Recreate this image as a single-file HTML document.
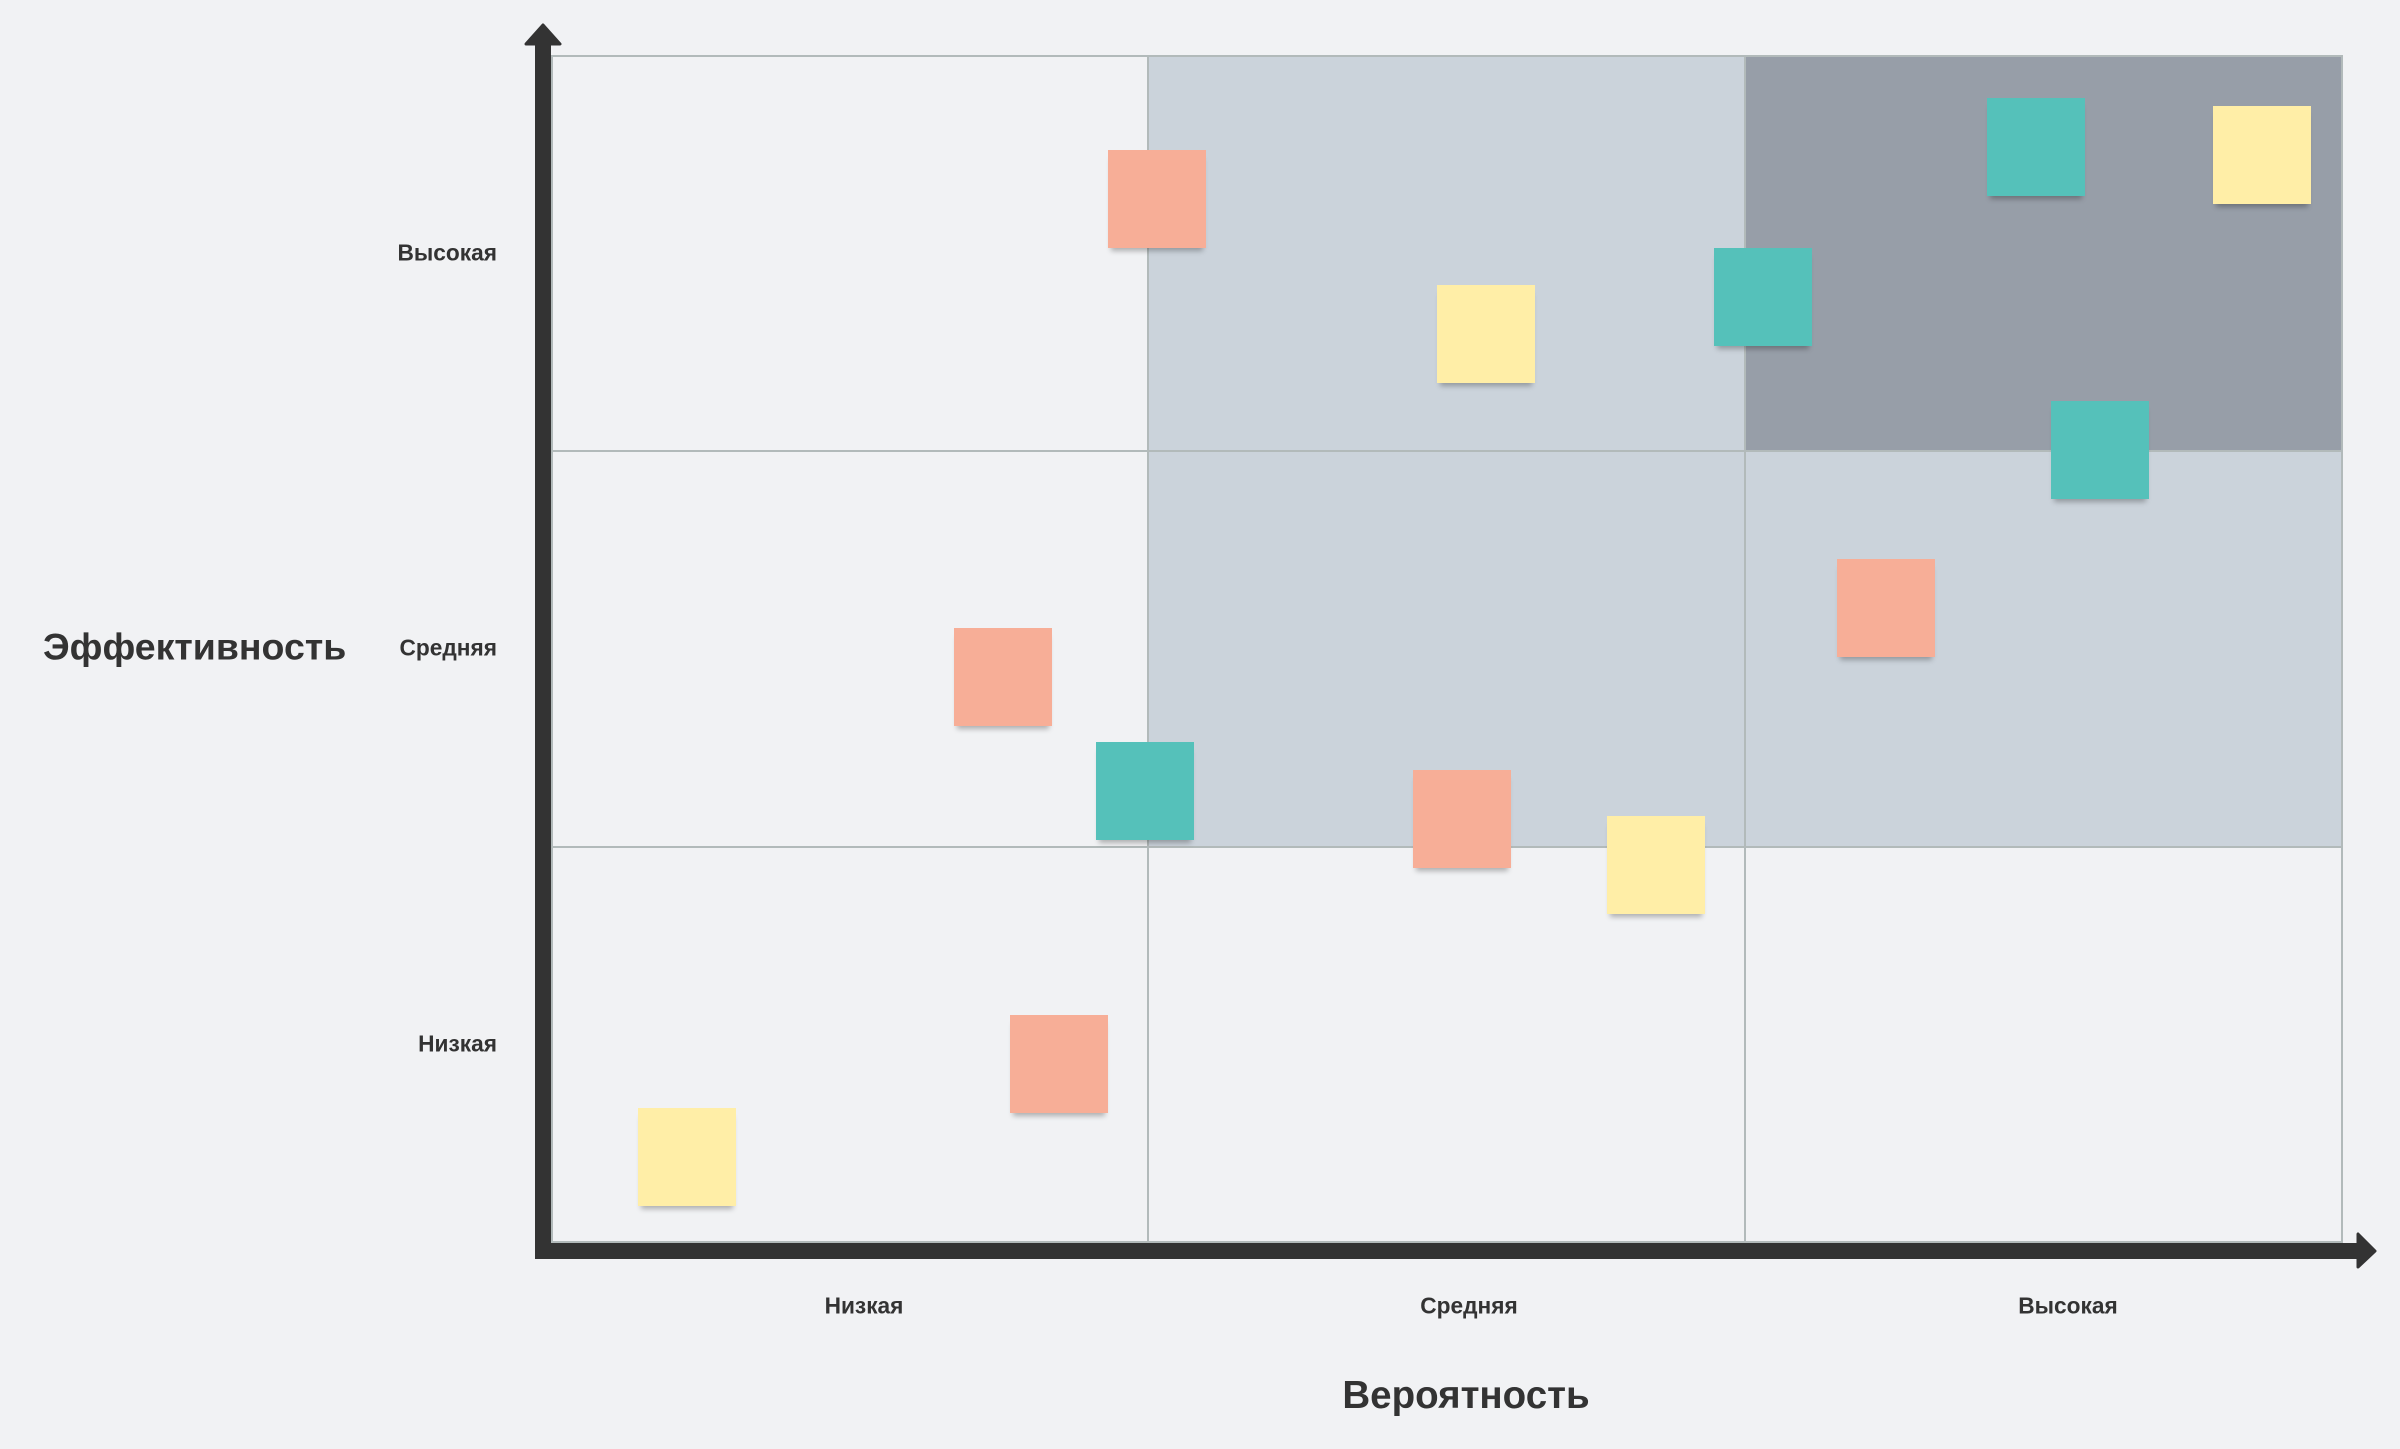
<!DOCTYPE html>
<html><head><meta charset="utf-8"><style>
html,body{margin:0;padding:0}
body{width:2400px;height:1449px;background:#f1f2f4;position:relative;overflow:hidden;font-family:"Liberation Sans",sans-serif;color:#333}
.a{position:absolute}
.s{position:absolute;width:98px;height:98px;box-shadow:0 6px 5px -3px rgba(0,0,0,0.28)}
.r{background:#f7ae97}.y{background:#ffeea7}.t{background:#55c1ba}
.lb{position:absolute;font-weight:bold;font-size:22.7px;transform:translate(-50%,-50%);white-space:nowrap}
.yl{position:absolute;font-weight:bold;font-size:22.7px;right:1903px;transform:translateY(-50%);white-space:nowrap}
</style></head><body>
<div class="a" style="left:1148px;top:55px;width:597px;height:792px;background:#cbd3db"></div>
<div class="a" style="left:1745px;top:451px;width:598px;height:396px;background:#cbd3db"></div>
<div class="a" style="left:1745px;top:55px;width:598px;height:396px;background:#979ea8"></div>
<div class="a" style="left:551px;top:55px;width:1792px;height:1188px;border:2px solid #b2baba;box-sizing:border-box"></div>
<div class="a" style="left:551px;top:450px;width:1792px;height:2px;background:#b2baba"></div>
<div class="a" style="left:551px;top:846px;width:1792px;height:2px;background:#b2baba"></div>
<div class="a" style="left:1147px;top:55px;width:2px;height:1188px;background:#b2baba"></div>
<div class="a" style="left:1744px;top:55px;width:2px;height:1188px;background:#b2baba"></div>
<svg class="a" style="left:0;top:0" width="2400" height="1449">
<rect x="535" y="40" width="16" height="1219" fill="#333"/>
<polygon points="543,25 560,44 526,44" fill="#333" stroke="#333" stroke-width="3" stroke-linejoin="round"/>
<rect x="535" y="1243" width="1825" height="16" fill="#333"/>
<polygon points="2375,1251 2358,1234 2358,1267" fill="#333" stroke="#333" stroke-width="3" stroke-linejoin="round"/>
</svg>
<div class="s r" style="left:1108px;top:150px"></div>
<div class="s y" style="left:1437px;top:285px"></div>
<div class="s t" style="left:1714px;top:248px"></div>
<div class="s t" style="left:1987px;top:98px"></div>
<div class="s y" style="left:2213px;top:106px"></div>
<div class="s t" style="left:2051px;top:401px"></div>
<div class="s r" style="left:1837px;top:559px"></div>
<div class="s r" style="left:954px;top:628px"></div>
<div class="s t" style="left:1096px;top:742px"></div>
<div class="s r" style="left:1413px;top:770px"></div>
<div class="s y" style="left:1607px;top:816px"></div>
<div class="s r" style="left:1010px;top:1015px"></div>
<div class="s y" style="left:638px;top:1108px"></div>
<div class="lb" style="left:864px;top:1306px">Низкая</div>
<div class="lb" style="left:1469px;top:1306px">Средняя</div>
<div class="lb" style="left:2068px;top:1306px">Высокая</div>
<div class="yl" style="top:253px">Высокая</div>
<div class="yl" style="top:648px">Средняя</div>
<div class="yl" style="top:1044px">Низкая</div>
<div class="lb" style="left:1466px;top:1396px;font-size:38.5px">Вероятность</div>
<div class="a" style="left:43px;top:647px;transform:translateY(-50%);font-weight:bold;font-size:37.5px;white-space:nowrap">Эффективность</div>
</body></html>
